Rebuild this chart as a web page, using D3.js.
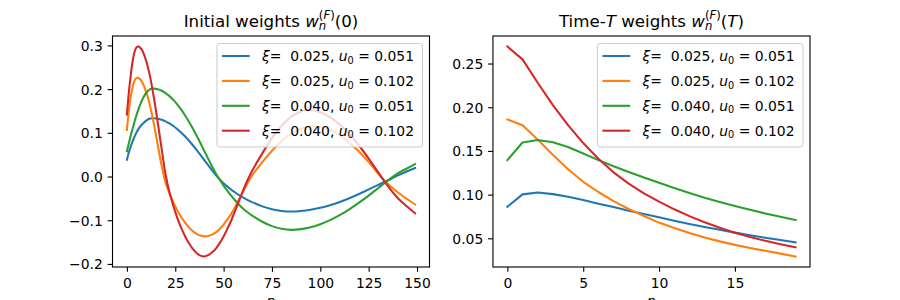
<!DOCTYPE html>
<html>
<head>
<meta charset="utf-8">
<script src="https://cdn.jsdelivr.net/npm/d3@7"></script>
<style>
  body { margin: 0; background: #fff; }
  svg text { font-family: "DejaVu Sans", sans-serif; white-space: pre; fill: #000; }
</style>
</head>
<body>
<svg id="chart" width="900" height="300"></svg>
<script>
// ---- data ----
const initN = [0,1,2,3,4,5,6,7,8,10,12,14,16,18,20,22,24,26,28,30,32,34,36,38,40,42,44,46,48,50,52,54,56,58,60,62,
               65,70,75,80,85,90,95,100,105,110,115,120,125,130,135,140,145,149];
const initW1 = [0.0386,0.055,0.069,0.081,0.092,0.101,0.109,0.115,0.120,
                0.128,0.1325,0.1333,0.1321,0.1297,0.1262,0.1214,0.1156,0.1087,0.1009,0.0921,0.0825,0.0721,0.0612,0.0497,0.0376,0.0262,0.0145,0.0030,-0.0070,-0.0155,-0.0232,-0.0302,-0.0366,-0.0425,-0.0478,-0.0527,
                -0.0592,-0.0683,-0.0748,-0.0788,-0.0800,-0.0788,-0.0759,-0.0715,-0.0655,-0.0582,-0.0496,-0.0400,-0.0295,-0.0190,-0.0085,0.0025,0.0120,0.0195];
const initW2 = [0.107,0.150,0.183,0.206,0.220,0.2255,0.2255,0.222,0.215,
                0.193,0.161,0.119,0.071,0.024,-0.014,-0.038,-0.059,-0.077,-0.092,-0.105,-0.116,-0.1245,-0.131,-0.135,-0.137,-0.136,-0.133,-0.128,-0.120,-0.110,-0.098,-0.085,-0.069,-0.052,-0.035,-0.018,
                0.004,0.033,0.059,0.081,0.098,0.110,0.115,0.1135,0.107,0.094,0.077,0.057,0.033,0.006,-0.017,-0.036,-0.052,-0.064];
const initW3 = [0.0576,0.076,0.094,0.1106,0.1265,0.141,0.1543,0.166,0.1764,
                0.1917,0.200,0.2012,0.1996,0.1962,0.1909,0.184,0.1754,0.1652,0.1535,0.1403,0.126,0.1104,0.094,0.0767,0.0585,0.041,0.0235,0.007,-0.0075,-0.021,-0.033,-0.0445,-0.055,-0.0645,-0.073,-0.0805,
                -0.090,-0.1035,-0.1135,-0.1195,-0.122,-0.1203,-0.1159,-0.109,-0.0998,-0.0883,-0.0749,-0.0599,-0.0436,-0.0262,-0.0090,0.0070,0.0190,0.0285];
const initW4 = [0.142,0.192,0.232,0.265,0.286,0.296,0.2975,0.294,0.288,
                0.264,0.228,0.179,0.122,0.062,0.004,-0.036,-0.067,-0.094,-0.117,-0.136,-0.152,-0.165,-0.175,-0.181,-0.183,-0.180,-0.174,-0.165,-0.152,-0.137,-0.119,-0.100,-0.078,-0.055,-0.033,-0.012,
                0.015,0.053,0.088,0.116,0.137,0.149,0.152,0.147,0.136,0.1195,0.098,0.071,0.041,0.009,-0.022,-0.049,-0.069,-0.084];

const timeN = d3.range(0, 20);
const timeW1 = [0.0861,0.1003,0.1024,0.1006,0.0975,0.0938,0.0896,0.0858,0.0816,0.0778,0.0740,0.0702,0.0665,0.0630,0.0597,0.0565,0.0535,0.0507,0.0480,0.0454];
const timeW2 = [0.1860,0.1795,0.1630,0.1455,0.1290,0.1147,0.1030,0.0925,0.0835,0.0755,0.0680,0.0617,0.0560,0.0510,0.0465,0.0425,0.0390,0.0357,0.0325,0.0292];
const timeW3 = [0.1395,0.1597,0.1625,0.1600,0.1545,0.1470,0.1395,0.1325,0.1260,0.1195,0.1135,0.1075,0.1018,0.0964,0.0915,0.0870,0.0826,0.0785,0.0746,0.0709];
const timeW4 = [0.2695,0.2548,0.2280,0.2025,0.1795,0.1590,0.1410,0.1255,0.1125,0.1015,0.0920,0.0832,0.0754,0.0683,0.0620,0.0565,0.0515,0.0471,0.0432,0.0397];

const legendXi = ["0.025", "0.025", "0.040", "0.040"];
const legendU0 = ["0.051", "0.102", "0.051", "0.102"];

const initXTicks = [0, 25, 50, 75, 100, 125, 150];
const initYTicks = [-0.2, -0.1, 0.0, 0.1, 0.2, 0.3];
const timeXTicks = [0, 5, 10, 15];
const timeYTicks = [0.05, 0.10, 0.15, 0.20, 0.25];

const colors = ["#1f77b4", "#ff7f0e", "#2ca02c", "#d62728"];

// ---- layout (matplotlib 9x3 in @100dpi, default subplot params) ----
const axTop = 36, axBottom = 267;
const tickFont = 13.9, titleFont = 16.67;
const lw = 0.8 * 100 / 72;

const svg = d3.select("#chart");

// one <text> made of tspans, laid out left to right (mathtext-ish sub/superscripts)
function mathText(parent, pieces, size) {
    const text = parent.append("text");
    let x = 0, mark = 0, maxX = 0;
    pieces.forEach(p => {
        if (p.mark) mark = x;
        if (p.back) { maxX = x; x = mark; }
        if (p.join) x = Math.max(x, maxX);
        const span = text.append("tspan")
            .attr("x", x)
            .attr("y", (p.shift || 0) * size)
            .attr("font-size", size * (p.scale || 1))
            .attr("font-style", p.it ? "italic" : "normal")
            .text(p.t);
        x += span.node().getComputedTextLength();
    });
    return {g: text, width: x};
}

const sup = 0.7, supUp = -0.47, subDown = 0.18;

const panels = [
    {
        x0: 112.5, x1: 429.5, n: initN, series: [initW1, initW2, initW3, initW4],
        xTicks: initXTicks, yTicks: initYTicks, yFmt: d3.format(".1f"), curve: d3.curveCatmullRom,
        title: [
            {t: "Initial weights "}, {t: "w", it: true},
            {t: "n", it: true, scale: sup, shift: subDown, mark: true},
            {t: "(", scale: sup, shift: supUp, back: true}, {t: "F", it: true, scale: sup, shift: supUp}, {t: ")", scale: sup, shift: supUp},
            {t: "(0)", join: true}
        ]
    },
    {
        x0: 492.95, x1: 810, n: timeN, series: [timeW1, timeW2, timeW3, timeW4],
        xTicks: timeXTicks, yTicks: timeYTicks, yFmt: d3.format(".2f"), curve: d3.curveLinear,
        title: [
            {t: "Time-"}, {t: "T", it: true}, {t: " weights "}, {t: "w", it: true},
            {t: "n", it: true, scale: sup, shift: subDown, mark: true},
            {t: "(", scale: sup, shift: supUp, back: true}, {t: "F", it: true, scale: sup, shift: supUp}, {t: ")", scale: sup, shift: supUp},
            {t: "(", join: true}, {t: "T", it: true}, {t: ")"}
        ]
    }
];

panels.forEach(p => {
    const allN = d3.extent(p.n);
    const padX = (allN[1] - allN[0]) * 0.05;
    const x = d3.scaleLinear().domain([allN[0] - padX, allN[1] + padX]).range([p.x0, p.x1]);

    const ext = d3.extent(p.series.flat());
    const padY = (ext[1] - ext[0]) * 0.05;
    const y = d3.scaleLinear().domain([ext[0] - padY, ext[1] + padY]).range([axBottom, axTop]);

    const line = d3.line()
        .x((d, i) => x(p.n[i]))
        .y(d => y(d))
        .curve(p.curve);

    const g = svg.append("g");

    g.selectAll("path.series")
        .data(p.series)
        .join("path")
        .attr("class", "series")
        .attr("d", line)
        .attr("fill", "none")
        .attr("stroke", (d, i) => colors[i])
        .attr("stroke-width", 2.08)
        .attr("stroke-linejoin", "round")
        .attr("stroke-linecap", "square");

    // axes
    const xAxis = g.append("g")
        .attr("transform", `translate(0,${axBottom})`)
        .call(d3.axisBottom(x).tickValues(p.xTicks).tickSize(4.86).tickPadding(6.6).tickFormat(d3.format("d")));
    const yAxis = g.append("g")
        .attr("transform", `translate(${p.x0},0)`)
        .call(d3.axisLeft(y).tickValues(p.yTicks).tickSize(4.86).tickPadding(4.86).tickFormat(p.yFmt));
    [xAxis, yAxis].forEach(a => {
        a.select(".domain").remove();
        a.selectAll(".tick line").attr("stroke", "#000").attr("stroke-width", lw);
        a.selectAll(".tick text").attr("font-size", tickFont).attr("font-family", "DejaVu Sans").attr("fill", "#000");
    });
    yAxis.selectAll(".tick text").attr("dy", "0.36em");

    // spines
    g.append("rect")
        .attr("x", p.x0).attr("y", axTop)
        .attr("width", p.x1 - p.x0).attr("height", axBottom - axTop)
        .attr("fill", "none").attr("stroke", "#000").attr("stroke-width", lw);

    // title
    const t = mathText(g, p.title, titleFont);
    t.g.attr("transform", `translate(${(p.x0 + p.x1) / 2 - t.width / 2},27)`);

    // x label, as in the reference it sits mostly below the visible area
    g.append("text")
        .attr("x", (p.x0 + p.x1) / 2).attr("y", 306)
        .attr("text-anchor", "middle")
        .attr("font-size", tickFont).attr("font-style", "italic")
        .text("n");

    // legend
    const lg = g.append("g");
    const rows = legendXi.map((xi, i) => [
        {t: "ξ", it: true}, {t: "=  " + xi + ", "}, {t: "u", it: true},
        {t: "0", scale: sup, shift: 0.2}, {t: " = " + legendU0[i]}
    ]);
    const frame = lg.append("rect");
    const labels = rows.map(r => mathText(lg, r, tickFont));
    const textW = d3.max(labels, l => l.width);
    const boxW = textW + 53.5, boxH = 103.5;
    const bx = p.x1 - 7 - boxW, by = axTop + 7.5;
    frame.attr("x", bx).attr("y", by).attr("width", boxW).attr("height", boxH)
        .attr("rx", 2.8)
        .attr("fill", "#fff").attr("fill-opacity", 0.8)
        .attr("stroke", "#cccccc").attr("stroke-width", 1);
    labels.forEach((l, i) => {
        const ry = by + 12.5 + i * 24.9;
        lg.append("line")
            .attr("x1", bx + 5).attr("x2", bx + 5 + 27.8)
            .attr("y1", ry).attr("y2", ry)
            .attr("stroke", colors[i]).attr("stroke-width", 2.08);
        l.g.attr("transform", `translate(${bx + 45},${ry + 4.9})`);
    });
});
</script>
</body>
</html>
